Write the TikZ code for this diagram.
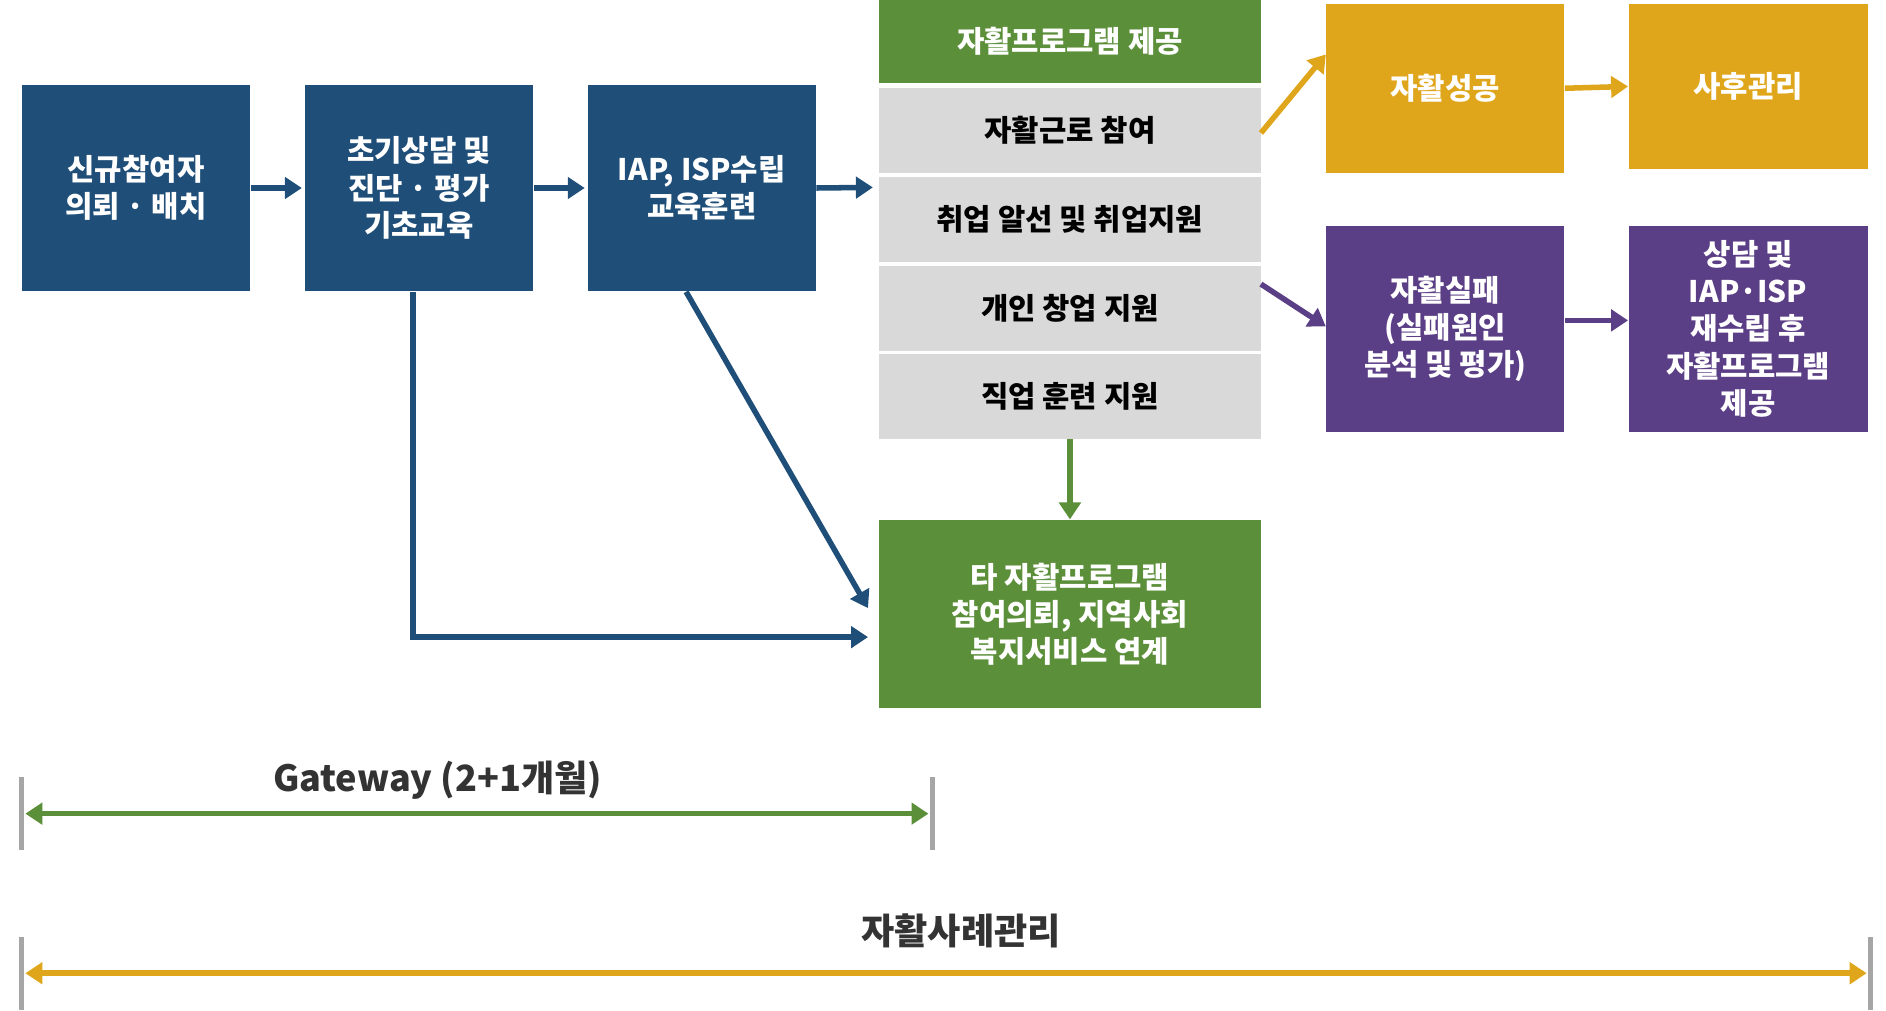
\documentclass[tikz,border=0pt]{standalone}
\usepackage{fontspec}
\setmainfont{Noto Sans CJK KR}
\usetikzlibrary{arrows.meta}
\definecolor{navy}{RGB}{31,78,121}
\definecolor{leaf}{RGB}{92,143,58}
\definecolor{gold}{RGB}{224,166,27}
\definecolor{plum}{RGB}{91,63,134}
\definecolor{pale}{RGB}{217,217,217}
\definecolor{ink}{RGB}{51,51,51}
\tikzset{
  box/.style={inner sep=0pt, align=center, font=\bfseries\fontsize{14}{17.5}\selectfont, text=white},
  stage/.style={box, fill=navy, minimum width=3.78cm, minimum height=3.42cm},
  row/.style={box, fill=pale, text=black, minimum width=6.32cm, minimum height=1.4cm},
  flow/.style={line width=2.6pt, -{Triangle[length=8pt,width=10pt]}},
  span/.style={line width=2.6pt, {Triangle[length=8pt,width=10pt]}-{Triangle[length=8pt,width=10pt]}},
  tick/.style={line width=2.4pt, color=gray!70}
}
\begin{document}
\begin{tikzpicture}[x=0.02cm, y=-0.02cm]
\useasboundingbox (0,0) rectangle (1560,836);

% intake and planning
\node[stage] (intake) at (112.5,155.5) {신규참여자\\의뢰 · 배치};
\node[stage] (assess) at (346.5,155.5) {초기상담 및\\진단 · 평가\\기초교육};
\node[stage] (plan)   at (580.5,155.5) {IAP, ISP수립\\교육훈련};

% programme column
\node[box, fill=leaf, minimum width=6.32cm, minimum height=1.38cm] (offer) at (885,34.5) {자활프로그램 제공};
\node[row] (work)  at (885,108)   {자활근로 참여};
\node[row] (job)   at (885,181.5) {취업 알선 및 취업지원};
\node[row] (start) at (885,255)   {개인 창업 지원};
\node[row] (train) at (885,328)   {직업 훈련 지원};
\node[box, fill=leaf, minimum width=6.32cm, minimum height=3.12cm] (refer) at (885,508) {타 자활프로그램\\참여의뢰, 지역사회\\복지서비스 연계};

% outcomes
\node[box, fill=gold, minimum width=3.94cm, minimum height=2.8cm] (success) at (1195.5,73) {자활성공};
\node[box, fill=gold, minimum width=3.96cm, minimum height=2.74cm] (after) at (1446,71.5) {사후관리};
\node[box, fill=plum, minimum width=3.94cm, minimum height=3.4cm] (fail) at (1195.5,272) {자활실패\\(실패원인\\분석 및 평가)};
\node[box, fill=plum, minimum width=3.96cm, minimum height=3.4cm] (replan) at (1446,272) {상담 및\\IAP·ISP\\재수립 후\\자활프로그램\\제공};

\coordinate (entry) at (722,155);
\coordinate (diag) at (718,503);
\coordinate (low) at (718,527);
\coordinate (wout) at (1043,110);
\coordinate (sout) at (1043,235);

\draw[flow, navy] (intake.east) -- ([xshift=-0.04cm]assess.west);
\draw[flow, navy] (assess.east) -- ([xshift=-0.04cm]plan.west);
\draw[flow, navy] (plan.east) -- (entry);
\draw[flow, navy] ([xshift=-0.1cm]assess.south) |- (low);
\draw[flow, navy] ([xshift=-0.26cm]plan.south) -- (diag);
\draw[flow, leaf] (train.south) -- (refer.north);
\draw[flow, gold] (wout) -- ([yshift=0.56cm]success.west);
\draw[flow, gold] (success.east) -- (after.west);
\draw[flow, plum] (sout) -- ([yshift=0.04cm]fail.west);
\draw[flow, plum] ([yshift=0.14cm]fail.east) -- ([yshift=0.14cm]replan.west);

% time spans
\draw[tick] (18,643) -- (18,703);
\draw[tick] (771,643) -- (771,703);
\coordinate (gl) at (21,673);
\coordinate (gr) at (768,673);
\draw[span, leaf] (gl) -- (gr);
\node[font=\bfseries\fontsize{17}{20}\selectfont, text=ink] (gate) at (362,645) {Gateway (2+1개월)};

\draw[tick] (18,775) -- (18,835);
\draw[tick] (1547,775) -- (1547,835);
\coordinate (cl) at (21,805);
\coordinate (cr) at (1544,805);
\draw[span, gold] (cl) -- (cr);
\node[font=\bfseries\fontsize{17}{20}\selectfont, text=ink] (case) at (795,770) {자활사례관리};
\end{tikzpicture}
\end{document}
